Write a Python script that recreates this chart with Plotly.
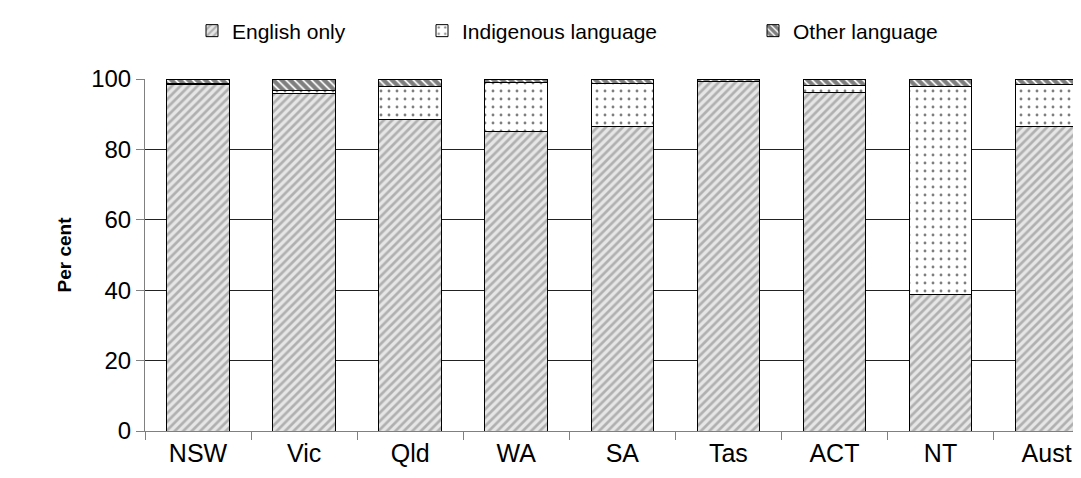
import plotly.graph_objects as go

categories = ["NSW", "Vic", "Qld", "WA", "SA", "Tas", "ACT", "NT", "Aust"]
english_only = [98.5, 95.8, 88.5, 85.0, 86.5, 99.2, 96.2, 38.9, 86.4]
indigenous = [0.3, 0.9, 9.3, 14.0, 12.3, 0.0, 1.9, 59.1, 11.9]
other = [1.2, 3.3, 2.2, 1.0, 1.2, 0.8, 1.9, 2.0, 1.7]
y_ticks = [0, 20, 40, 60, 80, 100]

FONT = "Liberation Sans, Arial, sans-serif"

fig = go.Figure()
fig.add_trace(go.Bar(
    x=categories, y=english_only, name="English only", legend="legend",
    marker=dict(color="#e6e6e6", line=dict(color="black", width=1),
                pattern=dict(shape="/", fgcolor="#7a7a7a", bgcolor="#e6e6e6", size=6, solidity=0.45)),
))
fig.add_trace(go.Bar(
    x=categories, y=indigenous, name="Indigenous language", legend="legend2",
    marker=dict(color="white", line=dict(color="black", width=1),
                pattern=dict(shape=".", fgcolor="black", bgcolor="white", size=8, solidity=0.1)),
))
fig.add_trace(go.Bar(
    x=categories, y=other, name="Other language", legend="legend3",
    marker=dict(color="white", line=dict(color="black", width=1),
                pattern=dict(shape="\\", fgcolor="black", bgcolor="white", size=6, solidity=0.7)),
))

LEG_Y = 1 - 23 / 478
leg_common = dict(orientation="h", xref="container", yref="container", yanchor="middle",
                  xanchor="left", font=dict(family=FONT, size=21, color="black"),
                  bgcolor="rgba(0,0,0,0)", itemwidth=30, tracegroupgap=0)

fig.update_layout(
    width=1081, height=478,
    margin=dict(l=137, r=0, t=71, b=55),
    paper_bgcolor="white", plot_bgcolor="white",
    barmode="stack", bargap=0.41,
    showlegend=True,
    font=dict(family=FONT, size=24, color="black"),
    legend=dict(x=184 / 1081, y=LEG_Y, **leg_common),
    legend2=dict(x=414 / 1081, y=LEG_Y, **leg_common),
    legend3=dict(x=745 / 1081, y=LEG_Y, **leg_common),
    xaxis=dict(range=[-0.5, 8.4], showline=True, linecolor="#808080", linewidth=1,
               ticks="outside", tickson="boundaries", ticklen=8, tickcolor="#808080",
               showgrid=False, tickfont=dict(size=25), fixedrange=True),
    yaxis=dict(range=[0, 100], tickvals=y_ticks, showline=True, linecolor="#808080", linewidth=1,
               ticks="outside", ticklen=8, tickcolor="#808080", showgrid=True,
               gridcolor="#222222", gridwidth=1, zeroline=False, tickfont=dict(size=24),
               title=dict(text="<b>Per cent</b>", font=dict(size=19), standoff=14)),
)

fig.write_html("out.html")
